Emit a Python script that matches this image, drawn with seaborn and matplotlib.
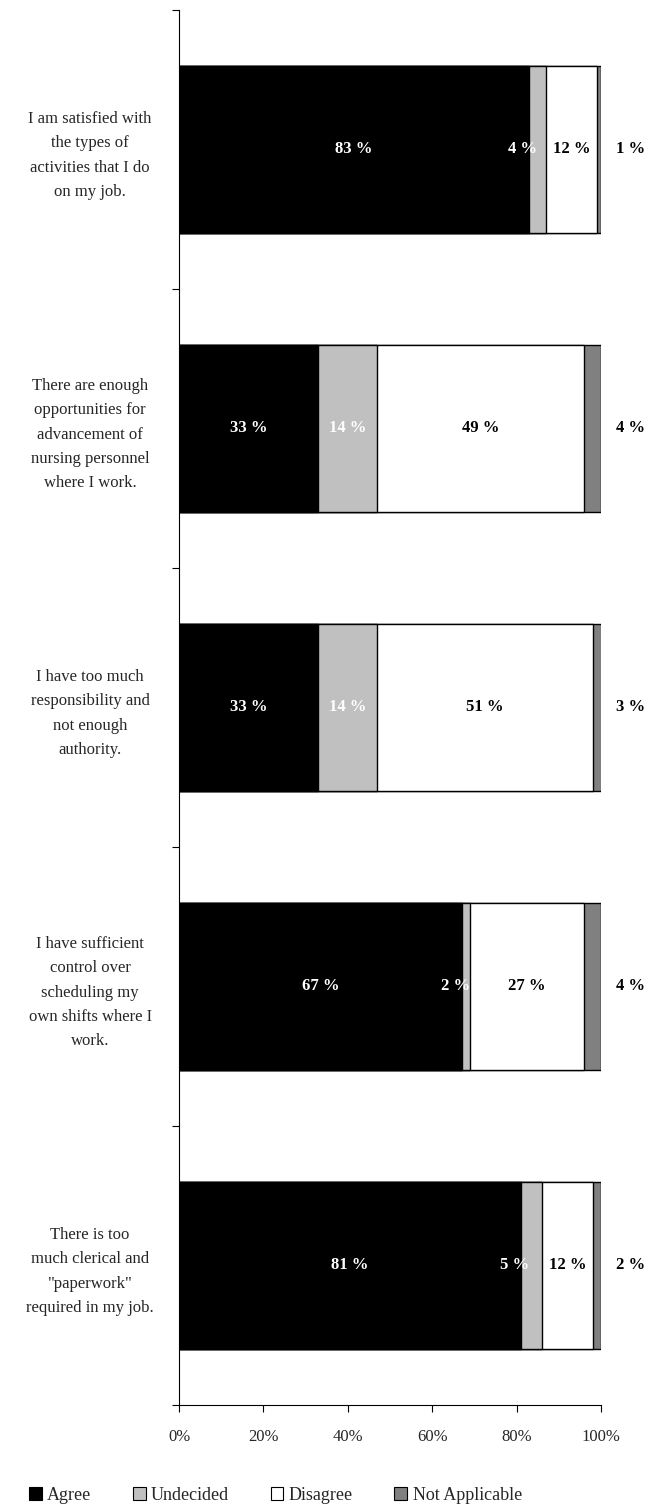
import numpy as np
import pandas as pd
import seaborn as sns
import matplotlib.pyplot as plt
from matplotlib.patches import Patch

statements = [
    "I am satisfied with\nthe types of\nactivities that I do\non my job.",
    "There are enough\nopportunities for\nadvancement of\nnursing personnel\nwhere I work.",
    "I have too much\nresponsibility and\nnot enough\nauthority.",
    "I have sufficient\ncontrol over\nscheduling my\nown shifts where I\nwork.",
    "There is too\nmuch clerical and\n\"paperwork\"\nrequired in my job.",
]
series = ["Agree", "Undecided", "Disagree", "Not Applicable"]
agree = [83, 33, 33, 67, 81]
undecided = [4, 14, 14, 2, 5]
disagree = [12, 49, 51, 27, 12]
not_applicable = [1, 4, 3, 4, 2]
colors = ["#000000", "#c0c0c0", "#ffffff", "#808080"]
text_colors = ["white", "white", "black", "black"]

sns.set_style("white")
plt.rcParams['font.family'] = ['Liberation Serif', 'DejaVu Serif']

df = pd.DataFrame({"statement": statements, "Agree": agree, "Undecided": undecided,
                   "Disagree": disagree, "Not Applicable": not_applicable})
cum = df[series].cumsum(axis=1)

fig = plt.figure(figsize=(6.72, 15.11), dpi=100)
ax = fig.add_axes([0.2664, 0.0702, 0.628, 0.9232])

# stacked bars: draw cumulative totals from the back to the front
for s, c in reversed(list(zip(series, colors))):
    sns.barplot(x=cum[s], y=df["statement"], color=c, edgecolor="black",
                linewidth=1, width=0.6, orient="h", ax=ax)

for i in range(len(statements)):
    left = 0
    for j, s in enumerate(series):
        v = df[s][i]
        if j == 3:
            xpos = 107
        elif j == 1 and v < 6:
            xpos = left - 1.5  # small segments: label sits just left of it
        else:
            xpos = left + v / 2
        ax.text(xpos, i, f"{v} %", ha="center", va="center", color=text_colors[j],
                fontsize=12, fontweight="bold", clip_on=False)
        left += v

ax.set_xlim(0, 100)
ax.set_ylim(4.5, -0.5)
ax.set_xticks(np.arange(0, 101, 20))
ax.set_xticklabels([f"{t}%" for t in range(0, 101, 20)], fontsize=12)
ax.set_yticks(range(len(statements)))
ax.set_yticklabels(statements, fontsize=12, ha="center", linespacing=1.7)
ax.set_yticks(np.arange(-0.5, 5, 1), minor=True)
ax.tick_params(axis="y", which="major", left=False, length=0, pad=64)
ax.tick_params(axis="y", which="minor", left=True, length=5, direction="out", width=0.8, color="black")
ax.tick_params(axis="x", bottom=True, length=5, direction="out", width=0.8, color="black", pad=12)
ax.set_xlabel("")
ax.set_ylabel("")
sns.despine(ax=ax)
for sp in ["left", "bottom"]:
    ax.spines[sp].set_linewidth(0.8)
    ax.spines[sp].set_color("black")

handles = [Patch(facecolor=c, edgecolor="black", linewidth=0.8) for c in colors]
fig.legend(handles, series, loc="lower center", bbox_to_anchor=(0.41, -0.006), ncol=4,
           frameon=False, fontsize=13, handlelength=0.7, handleheight=0.7,
           handletextpad=0.3, columnspacing=2.3)

fig.savefig("out.png", dpi=100)
